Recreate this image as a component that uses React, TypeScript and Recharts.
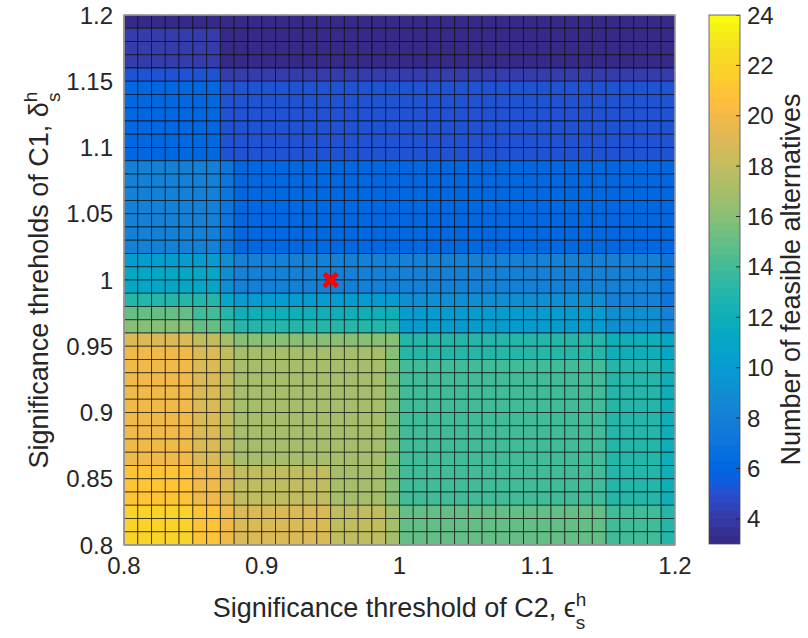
import {
  ComposedChart,
  Label,
  ReferenceArea,
  Scatter,
  ScatterChart,
  XAxis,
  YAxis,
} from "recharts"

const FONT = '"Liberation Sans", Arial, Helvetica, sans-serif'
const INK = "#262626"

/** Cell edges of the significance threshold of C2 (x). */
const c2Edges = [
  0.8, 0.81, 0.82, 0.83, 0.84, 0.85, 0.86, 0.87, 0.88, 0.89, 0.9, 0.91, 0.92, 0.93, 0.94, 0.95, 0.96, 0.97, 0.98, 0.99,
  1, 1.01, 1.02, 1.03, 1.04, 1.05, 1.06, 1.07, 1.08, 1.09, 1.1, 1.11, 1.12, 1.13, 1.14, 1.15, 1.16, 1.17, 1.18, 1.19, 1.2,
]
/** Cell edges of the significance threshold of C1 (y). */
const c1Edges = [
  0.8, 0.81, 0.82, 0.83, 0.84, 0.85, 0.86, 0.87, 0.88, 0.89, 0.9, 0.91, 0.92, 0.93, 0.94, 0.95, 0.96, 0.97, 0.98, 0.99,
  1, 1.01, 1.02, 1.03, 1.04, 1.05, 1.06, 1.07, 1.08, 1.09, 1.1, 1.11, 1.12, 1.13, 1.14, 1.15, 1.16, 1.17, 1.18, 1.19, 1.2,
]

const c2Ticks = [0.8, 0.9, 1, 1.1, 1.2]
const c1Ticks = [0.8, 0.85, 0.9, 0.95, 1, 1.05, 1.1, 1.15, 1.2]
const countTicks = [4, 6, 8, 10, 12, 14, 16, 18, 20, 22, 24]
const chosenThresholds = [{ x: 0.95, y: 1 }]

/** Number of feasible alternatives. Row 0 = top band (C1 1.19–1.20), 40 columns from C2 = 0.80. */
const feasibleCounts = [
  [3, 3, 3, 3, 3, 3, 3, 3, 3, 3, 3, 3, 3, 3, 3, 3, 3, 3, 3, 3, 3, 3, 3, 3, 3, 3, 3, 3, 3, 3, 3, 3, 3, 3, 3, 3, 3, 3, 3, 3],
  [4, 4, 4, 4, 4, 4, 4, 3, 3, 3, 3, 3, 3, 3, 3, 3, 3, 3, 3, 3, 3, 3, 3, 3, 3, 3, 3, 3, 3, 3, 3, 3, 3, 3, 3, 3, 3, 3, 3, 3],
  [4, 4, 4, 4, 4, 4, 4, 3, 3, 3, 3, 3, 3, 3, 3, 3, 3, 3, 3, 3, 3, 3, 3, 3, 3, 3, 3, 3, 3, 3, 3, 3, 3, 3, 3, 3, 3, 3, 3, 3],
  [4, 4, 4, 4, 4, 4, 4, 3, 3, 3, 3, 3, 3, 3, 3, 3, 3, 3, 3, 3, 3, 3, 3, 3, 3, 3, 3, 3, 3, 3, 3, 3, 3, 3, 3, 3, 3, 3, 3, 3],
  [5, 5, 5, 5, 5, 5, 5, 4, 4, 4, 4, 4, 4, 4, 4, 4, 4, 4, 4, 4, 4, 4, 4, 4, 4, 4, 4, 4, 4, 4, 4, 4, 4, 4, 4, 4, 4, 4, 4, 4],
  [6, 6, 6, 6, 6, 6, 6, 5, 5, 5, 5, 5, 5, 5, 5, 5, 5, 5, 5, 5, 5, 5, 5, 5, 5, 5, 5, 5, 5, 5, 5, 5, 5, 5, 5, 5, 5, 5, 5, 5],
  [6, 6, 6, 6, 6, 6, 6, 5, 5, 5, 5, 5, 5, 5, 5, 5, 5, 5, 5, 5, 5, 5, 5, 5, 5, 5, 5, 5, 5, 5, 5, 5, 5, 5, 5, 5, 5, 5, 5, 5],
  [6, 6, 6, 6, 6, 6, 6, 5, 5, 5, 5, 5, 5, 5, 5, 5, 5, 5, 5, 5, 5, 5, 5, 5, 5, 5, 5, 5, 5, 5, 5, 5, 5, 5, 5, 5, 5, 5, 5, 5],
  [6, 6, 6, 6, 6, 6, 6, 5, 5, 5, 5, 5, 5, 5, 5, 5, 5, 5, 5, 5, 5, 5, 5, 5, 5, 5, 5, 5, 5, 5, 5, 5, 5, 5, 5, 5, 5, 5, 5, 5],
  [6, 6, 6, 6, 6, 6, 6, 5, 5, 5, 5, 5, 5, 5, 5, 5, 5, 5, 5, 5, 5, 5, 5, 5, 5, 5, 5, 5, 5, 5, 5, 5, 5, 5, 5, 5, 5, 5, 5, 5],
  [6, 6, 6, 6, 6, 6, 6, 5, 5, 5, 5, 5, 5, 5, 5, 5, 5, 5, 5, 5, 5, 5, 5, 5, 5, 5, 5, 5, 5, 5, 5, 5, 5, 5, 5, 5, 5, 5, 5, 5],
  [8, 8, 8, 8, 8, 8, 8, 7, 6, 6, 6, 6, 6, 6, 6, 6, 6, 6, 6, 6, 6, 6, 6, 6, 6, 6, 6, 6, 6, 6, 6, 6, 6, 6, 6, 6, 6, 6, 6, 6],
  [8, 8, 8, 8, 8, 8, 8, 7, 6, 6, 6, 6, 6, 6, 6, 6, 6, 6, 6, 6, 6, 6, 6, 6, 6, 6, 6, 6, 6, 6, 6, 6, 6, 6, 6, 6, 6, 6, 6, 6],
  [8, 8, 8, 8, 8, 8, 8, 7, 6, 6, 6, 6, 6, 6, 6, 6, 6, 6, 6, 6, 6, 6, 6, 6, 6, 6, 6, 6, 6, 6, 6, 6, 6, 6, 6, 6, 6, 6, 6, 6],
  [8, 8, 8, 8, 8, 8, 8, 7, 6, 6, 6, 6, 6, 6, 6, 6, 6, 6, 6, 6, 6, 6, 6, 6, 6, 6, 6, 6, 6, 6, 6, 6, 6, 6, 6, 6, 6, 6, 6, 6],
  [8, 8, 8, 8, 8, 8, 8, 7, 6, 6, 6, 6, 6, 6, 6, 6, 6, 6, 6, 6, 6, 6, 6, 6, 6, 6, 6, 6, 6, 6, 6, 6, 6, 6, 6, 6, 6, 6, 6, 6],
  [8, 8, 8, 8, 8, 8, 8, 7, 6, 6, 6, 6, 6, 6, 6, 6, 6, 6, 6, 6, 6, 6, 6, 6, 6, 6, 6, 6, 6, 6, 6, 6, 6, 6, 6, 6, 6, 6, 6, 6],
  [8, 8, 8, 8, 8, 8, 8, 7, 6, 6, 6, 6, 6, 6, 6, 6, 6, 6, 6, 6, 6, 6, 6, 6, 6, 6, 6, 6, 6, 6, 6, 6, 6, 6, 6, 6, 6, 6, 6, 6],
  [10, 10, 10, 10, 10, 10, 10, 9, 8, 8, 8, 8, 8, 8, 8, 8, 8, 8, 8, 8, 8, 8, 8, 8, 8, 8, 8, 8, 8, 8, 8, 8, 8, 8, 8, 8, 8, 8, 8, 7],
  [11, 11, 11, 11, 11, 11, 11, 9, 8, 8, 8, 8, 8, 8, 8, 8, 8, 8, 8, 8, 8, 8, 8, 8, 8, 8, 8, 8, 8, 8, 8, 8, 8, 8, 8, 8, 8, 8, 8, 7],
  [11, 11, 11, 11, 11, 11, 11, 9, 8, 8, 8, 8, 8, 8, 8, 8, 8, 8, 8, 8, 8, 8, 8, 8, 8, 8, 8, 8, 8, 8, 8, 8, 8, 8, 8, 8, 8, 8, 8, 7],
  [13, 13, 13, 13, 13, 13, 13, 11, 10, 10, 10, 10, 10, 10, 10, 10, 10, 10, 10, 10, 9, 9, 9, 9, 9, 9, 9, 9, 9, 9, 9, 9, 9, 9, 9, 8, 8, 8, 8, 7],
  [15, 15, 15, 15, 15, 14, 14, 13, 12, 12, 12, 12, 12, 12, 12, 12, 12, 12, 12, 12, 10, 10, 10, 10, 10, 10, 10, 10, 10, 10, 10, 10, 10, 10, 10, 9, 9, 9, 9, 8],
  [16, 16, 16, 16, 16, 15, 15, 14, 13, 13, 13, 13, 13, 13, 13, 13, 13, 13, 13, 13, 10, 10, 10, 10, 10, 10, 10, 10, 10, 10, 10, 10, 10, 10, 10, 9, 9, 9, 9, 8],
  [19, 19, 19, 19, 19, 18, 18, 17, 16, 16, 16, 16, 16, 16, 16, 16, 16, 16, 16, 16, 13, 13, 13, 13, 13, 13, 13, 13, 13, 13, 13, 13, 13, 13, 13, 12, 12, 12, 12, 11],
  [20, 20, 20, 20, 20, 19, 19, 18, 17, 17, 17, 17, 17, 17, 17, 17, 17, 17, 17, 16, 13, 13, 13, 13, 13, 13, 13, 13, 13, 13, 13, 13, 13, 13, 13, 12, 12, 12, 12, 11],
  [20, 20, 20, 20, 20, 19, 19, 18, 17, 17, 17, 17, 17, 17, 17, 17, 17, 17, 17, 16, 14, 14, 14, 14, 14, 14, 14, 14, 14, 14, 14, 14, 14, 14, 14, 13, 13, 13, 13, 12],
  [20, 20, 20, 20, 20, 19, 19, 18, 17, 17, 17, 17, 17, 17, 17, 17, 17, 17, 17, 16, 14, 14, 14, 14, 14, 14, 14, 14, 14, 14, 14, 14, 14, 14, 14, 13, 13, 13, 13, 12],
  [20, 20, 20, 20, 20, 19, 19, 18, 17, 17, 17, 17, 17, 17, 17, 17, 17, 17, 17, 16, 14, 14, 14, 14, 14, 14, 14, 14, 14, 14, 14, 14, 14, 14, 14, 13, 13, 13, 13, 12],
  [20, 20, 20, 20, 20, 19, 19, 18, 17, 17, 17, 17, 17, 17, 17, 17, 17, 17, 17, 16, 14, 14, 14, 14, 14, 14, 14, 14, 14, 14, 14, 14, 14, 14, 14, 13, 13, 13, 13, 12],
  [20, 20, 20, 20, 20, 19, 19, 18, 17, 17, 17, 17, 17, 17, 17, 17, 17, 17, 17, 16, 14, 14, 14, 14, 14, 14, 14, 14, 14, 14, 14, 14, 14, 14, 14, 13, 13, 13, 13, 12],
  [20, 20, 20, 20, 20, 19, 19, 18, 17, 17, 17, 17, 17, 17, 17, 17, 17, 17, 17, 16, 14, 14, 14, 14, 14, 14, 14, 14, 14, 14, 14, 14, 14, 14, 14, 13, 13, 13, 13, 12],
  [20, 20, 20, 20, 20, 19, 19, 18, 17, 17, 17, 17, 17, 17, 17, 17, 17, 17, 17, 16, 14, 14, 14, 14, 14, 14, 14, 14, 14, 14, 14, 14, 14, 14, 14, 13, 13, 13, 13, 12],
  [20, 20, 20, 20, 20, 19, 19, 18, 17, 17, 17, 17, 17, 17, 17, 17, 17, 17, 17, 16, 14, 14, 14, 14, 14, 14, 14, 14, 14, 14, 14, 14, 14, 14, 14, 13, 13, 13, 13, 12],
  [21, 21, 21, 21, 21, 20, 20, 19, 18, 18, 18, 18, 18, 18, 18, 17, 17, 17, 17, 16, 14, 14, 14, 14, 14, 14, 14, 14, 14, 14, 14, 14, 14, 14, 14, 13, 13, 13, 13, 12],
  [21, 21, 21, 21, 21, 20, 20, 19, 18, 18, 18, 18, 18, 18, 18, 17, 17, 17, 17, 16, 14, 14, 14, 14, 14, 14, 14, 14, 14, 14, 14, 14, 14, 14, 14, 13, 13, 13, 13, 12],
  [21, 21, 21, 21, 21, 20, 20, 19, 18, 18, 18, 18, 18, 18, 18, 17, 17, 17, 17, 16, 14, 14, 14, 14, 14, 14, 14, 14, 14, 14, 14, 14, 14, 14, 14, 13, 13, 13, 13, 12],
  [22, 22, 22, 22, 22, 21, 21, 20, 19, 19, 19, 19, 19, 19, 19, 18, 18, 18, 18, 17, 15, 15, 15, 15, 15, 15, 15, 15, 15, 15, 15, 15, 15, 15, 15, 14, 14, 14, 14, 13],
  [22, 22, 22, 22, 22, 21, 21, 20, 19, 19, 19, 19, 19, 19, 19, 18, 18, 18, 18, 17, 15, 15, 15, 15, 15, 15, 15, 15, 15, 15, 15, 15, 15, 15, 15, 14, 14, 14, 14, 13],
  [22, 22, 22, 22, 22, 21, 21, 20, 19, 19, 19, 19, 19, 19, 19, 18, 18, 18, 18, 17, 15, 15, 15, 15, 15, 15, 15, 15, 15, 15, 15, 15, 15, 15, 15, 14, 14, 14, 14, 13],
]

// MATLAB parula, 64 entries
const PARULA = [
  [0.2081, 0.1663, 0.5292], [0.2116, 0.1898, 0.5777], [0.2123, 0.2138, 0.627], [0.2081, 0.2386, 0.6771],
  [0.1959, 0.2645, 0.7279], [0.1707, 0.2919, 0.7792], [0.1253, 0.3242, 0.8303], [0.0591, 0.3598, 0.8683],
  [0.0117, 0.3875, 0.882], [0.006, 0.4086, 0.8828], [0.0165, 0.4266, 0.8786], [0.0329, 0.443, 0.872],
  [0.0498, 0.4586, 0.8641], [0.0629, 0.4737, 0.8554], [0.0723, 0.4887, 0.8467], [0.0779, 0.504, 0.8384],
  [0.0793, 0.52, 0.8312], [0.0749, 0.5375, 0.8263], [0.0641, 0.557, 0.824], [0.0488, 0.5772, 0.8228],
  [0.0343, 0.5966, 0.8199], [0.0265, 0.6137, 0.8135], [0.0239, 0.6287, 0.8038], [0.0231, 0.6418, 0.7913],
  [0.0228, 0.6535, 0.7768], [0.0267, 0.6642, 0.7607], [0.0384, 0.6743, 0.7436], [0.059, 0.6838, 0.7254],
  [0.0843, 0.6928, 0.7062], [0.1133, 0.7015, 0.6859], [0.1453, 0.7098, 0.6646], [0.1801, 0.7177, 0.6424],
  [0.2178, 0.725, 0.6193], [0.2586, 0.7317, 0.5954], [0.3022, 0.7376, 0.5712], [0.3482, 0.7424, 0.5473],
  [0.3953, 0.7459, 0.5244], [0.442, 0.7481, 0.5033], [0.4871, 0.7491, 0.484], [0.53, 0.7491, 0.4661],
  [0.5709, 0.7485, 0.4494], [0.6099, 0.7473, 0.4337], [0.6473, 0.7456, 0.4188], [0.6834, 0.7435, 0.4044],
  [0.7184, 0.7411, 0.3905], [0.7525, 0.7384, 0.3768], [0.7858, 0.7356, 0.3633], [0.8185, 0.7327, 0.3498],
  [0.8507, 0.7299, 0.336], [0.8824, 0.7274, 0.3217], [0.9139, 0.7258, 0.3063], [0.945, 0.7261, 0.2886],
  [0.9739, 0.7314, 0.2666], [0.9938, 0.7455, 0.2403], [0.999, 0.7653, 0.2164], [0.9955, 0.7861, 0.1967],
  [0.988, 0.8066, 0.1794], [0.9789, 0.8271, 0.1633], [0.9697, 0.8481, 0.1475], [0.9626, 0.8705, 0.1309],
  [0.9589, 0.8949, 0.1132], [0.9598, 0.9218, 0.0948], [0.9661, 0.9514, 0.0755], [0.9763, 0.9831, 0.0538],
]

const C_MIN = 3
const C_MAX = 24

const rgb = (c: number[]) =>
  `rgb(${Math.round(c[0] * 255)},${Math.round(c[1] * 255)},${Math.round(c[2] * 255)})`

function parula(v: number) {
  const t = (v - C_MIN) / (C_MAX - C_MIN)
  const idx = Math.min(PARULA.length - 1, Math.max(0, Math.floor(t * PARULA.length)))
  return rgb(PARULA[idx])
}

const fmt = (v: number) => String(Number(v.toFixed(2)))

const cells = feasibleCounts.flatMap((row, j) =>
  row.map((count, i) => ({
    key: `${j}-${i}`,
    x1: c2Edges[i],
    x2: c2Edges[i + 1],
    y1: c1Edges[c1Edges.length - 2 - j],
    y2: c1Edges[c1Edges.length - 1 - j],
    count,
  })),
)

const barTickPoints = countTicks.map((t) => ({ x: 1, y: t }))

const tickStyle = { fill: INK, fontSize: 24, fontFamily: FONT }
const TITLE_SIZE = 27
const SUB_SIZE = 19

function XTitle({ viewBox }: any) {
  const { x, y, width } = viewBox
  return (
    <text x={x + width / 2} y={y + 72} textAnchor="middle" fill={INK} fontSize={TITLE_SIZE} fontFamily={FONT}>
      Significance threshold of C2, ϵ
      <tspan dy="-0.6em" fontSize={SUB_SIZE}>h</tspan>
      <tspan dx="-10.5" dy="1.25em" fontSize={SUB_SIZE}>s</tspan>
    </text>
  )
}

function YTitle({ viewBox }: any) {
  const { x, y, height } = viewBox
  const cx = x + 48
  const cy = y + height / 2
  return (
    <text
      x={cx}
      y={cy}
      transform={`rotate(-90 ${cx} ${cy})`}
      textAnchor="middle"
      fill={INK}
      fontSize={TITLE_SIZE}
      fontFamily={FONT}
    >
      Significance threholds of C1, δ
      <tspan dy="-0.6em" fontSize={SUB_SIZE}>h</tspan>
      <tspan dx="-10.5" dy="1.25em" fontSize={SUB_SIZE}>s</tspan>
    </text>
  )
}

function BarTitle({ viewBox }: any) {
  const { x, y, height } = viewBox
  const cx = x + 60
  const cy = y + height / 2
  return (
    <text
      x={cx}
      y={cy}
      transform={`rotate(-90 ${cx} ${cy})`}
      textAnchor="middle"
      fill={INK}
      fontSize={TITLE_SIZE}
      fontFamily={FONT}
    >
      Number of feasible alternatives
    </text>
  )
}

function Cross({ cx, cy }: any) {
  return (
    <g stroke="#ff0000" strokeWidth={5}>
      <line x1={cx - 6.5} y1={cy - 6.5} x2={cx + 6.5} y2={cy + 6.5} />
      <line x1={cx - 6.5} y1={cy + 6.5} x2={cx + 6.5} y2={cy - 6.5} />
    </g>
  )
}

function BarTick({ cx, cy }: any) {
  return <line x1={cx - 4} y1={cy} x2={cx} y2={cy} stroke="#262626" strokeWidth={1} />
}

function GradientBar({ x, y, width, height }: any) {
  return (
    <g>
      <defs>
        <linearGradient id="parulaBar" x1="0" y1="1" x2="0" y2="0">
          {PARULA.flatMap((c, i) => [
            <stop key={`a${i}`} offset={`${(i / PARULA.length) * 100}%`} stopColor={rgb(c)} />,
            <stop key={`b${i}`} offset={`${((i + 1) / PARULA.length) * 100}%`} stopColor={rgb(c)} />,
          ])}
        </linearGradient>
      </defs>
      <rect x={x} y={y} width={width} height={height} fill="url(#parulaBar)" stroke="#4d4d4d" strokeWidth={0.8} />
    </g>
  )
}

function HeatMap() {
  return (
    <ScatterChart width={700} height={638} margin={{ top: 15, right: 25, bottom: 0, left: 0 }}>
      <XAxis
        type="number"
        dataKey="x"
        domain={[0.8, 1.2]}
        ticks={c2Ticks}
        allowDataOverflow
        height={93}
        tickFormatter={fmt}
        axisLine={{ stroke: "#8f8f8f" }}
        tickLine={false}
        tickSize={6}
        tickMargin={6}
        tick={tickStyle}
      >
        <Label content={XTitle} />
      </XAxis>
      <YAxis
        type="number"
        dataKey="y"
        domain={[0.8, 1.2]}
        ticks={c1Ticks}
        allowDataOverflow
        width={124}
        tickFormatter={fmt}
        axisLine={{ stroke: "#8f8f8f" }}
        tickLine={false}
        tickSize={6}
        tickMargin={5}
        tick={tickStyle}
      >
        <Label content={YTitle} />
      </YAxis>
      {cells.map((c) => (
        <ReferenceArea
          key={c.key}
          x1={c.x1}
          x2={c.x2}
          y1={c.y1}
          y2={c.y2}
          fill={parula(c.count)}
          fillOpacity={1}
          stroke="#000"
          strokeOpacity={0.6}
          strokeWidth={1}
        />
      ))}
      <ReferenceArea x1={0.8} x2={1.2} y1={0.8} y2={1.2} fill="none" stroke="#a6a6a6" strokeWidth={1.5} />
      <Scatter data={chosenThresholds} fill="#ff0000" shape={Cross} isAnimationActive={false} />
    </ScatterChart>
  )
}

function ColorBar() {
  return (
    <ScatterChart width={108} height={638} margin={{ top: 15, right: 0, bottom: 94, left: 9 }}>
      <XAxis type="number" dataKey="x" domain={[0, 1]} allowDataOverflow hide />
      <YAxis
        type="number"
        dataKey="y"
        orientation="right"
        domain={[C_MIN, C_MAX]}
        ticks={countTicks}
        allowDataOverflow
        width={68}
        axisLine={false}
        tickLine={false}
        tickSize={2}
        tickMargin={5}
        tick={tickStyle}
      >
        <Label content={BarTitle} />
      </YAxis>
      <ReferenceArea x1={0} x2={1} y1={C_MIN} y2={C_MAX} ifOverflow="visible" shape={GradientBar} />
      <Scatter data={barTickPoints} shape={BarTick} isAnimationActive={false} />
    </ScatterChart>
  )
}

export default function App() {
  return (
    <div style={{ position: "absolute", left: 0, top: 0, width: 808, height: 638, background: "#fff" }}>
      <div style={{ position: "absolute", left: 0, top: 0 }}>
        <HeatMap />
      </div>
      <div style={{ position: "absolute", left: 700, top: 0 }}>
        <ColorBar />
      </div>
    </div>
  )
}
